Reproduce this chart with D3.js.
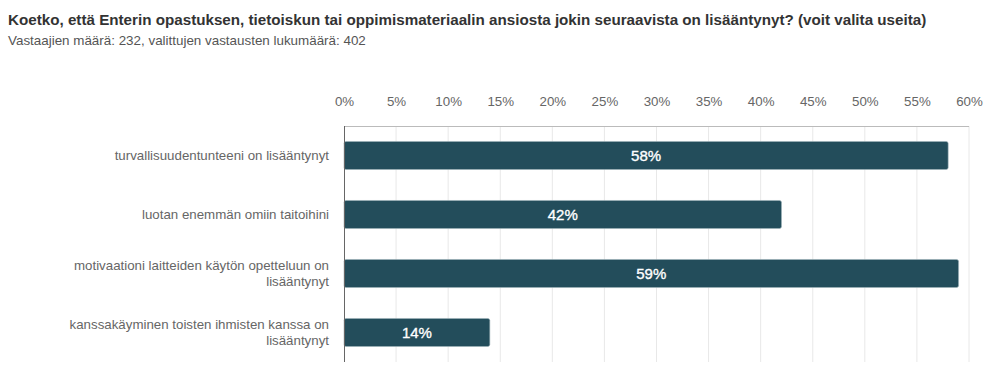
<!DOCTYPE html>
<html>
<head>
<meta charset="utf-8">
<script src="https://cdn.jsdelivr.net/npm/d3@7"></script>
<style>
  body { margin: 0; background: #fff; font-family: "Liberation Sans", Arial, sans-serif; }
</style>
</head>
<body>
<svg id="chart"></svg>
<script>
// data
const title = "Koetko, että Enterin opastuksen, tietoiskun tai oppimismateriaalin ansiosta jokin seuraavista on lisääntynyt? (voit valita useita)";
const subtitle = "Vastaajien määrä: 232, valittujen vastausten lukumäärä: 402";
const categories = [
    ["turvallisuudentunteeni on lisääntynyt"],
    ["luotan enemmän omiin taitoihini"],
    ["motivaationi laitteiden käytön opetteluun on", "lisääntynyt"],
    ["kanssakäyminen toisten ihmisten kanssa on", "lisääntynyt"]
];
const values = [58, 42, 59, 14];
const ticks = [0, 5, 10, 15, 20, 25, 30, 35, 40, 45, 50, 55, 60];

// layout
var width = 1000, height = 383;
var margin = ({ top: 126, right: 31, bottom: 21, left: 344 });

const svg = d3.select("#chart")
    .attr("width", width)
    .attr("height", height);

svg.append("text")
    .attr("x", 8).attr("y", 25)
    .attr("font-size", 15.2).attr("font-weight", "bold")
    .attr("fill", "#333")
    .text(title);

svg.append("text")
    .attr("x", 8).attr("y", 45)
    .attr("font-size", 13.4).attr("fill", "#555")
    .text(subtitle);

let x = d3.scaleLinear()
    .domain([0, 60])
    .range([margin.left, width - margin.right]);

let y = d3.scaleBand()
    .domain(d3.range(categories.length))
    .range([margin.top, height - margin.bottom])
    .paddingInner(0.525)
    .paddingOuter(0.2625);

// grid
svg.append("g")
    .selectAll("line")
    .data(ticks.slice(1))
    .join("line")
    .attr("x1", d => x(d)).attr("x2", d => x(d))
    .attr("y1", margin.top).attr("y2", height - margin.bottom)
    .attr("stroke", "#e8e8e8");

// top border
svg.append("line")
    .attr("x1", x(0)).attr("x2", x(60))
    .attr("y1", margin.top + 0.5).attr("y2", margin.top + 0.5)
    .attr("stroke", "#bbb");

// x axis on top
let xAxis = g => g
    .attr("transform", `translate(0,${margin.top - 17})`)
    .call(d3.axisTop(x).tickValues(ticks).tickFormat(d => d + "%").tickSize(0))
    .call(g => g.select(".domain").remove())
    .call(g => g.selectAll("text")
        .attr("font-family", "Liberation Sans, Arial, sans-serif")
        .attr("font-size", 13.3)
        .attr("fill", "#666"));
svg.append("g").call(xAxis);

// bars
svg.append("g")
    .selectAll("rect")
    .data(values)
    .join("rect")
    .attr("x", x(0))
    .attr("y", (d, i) => y(i))
    .attr("width", d => x(d) - x(0))
    .attr("height", y.bandwidth())
    .attr("rx", 2)
    .attr("fill", "#234d5b")
    .attr("stroke", "#9fb3ba")
    .attr("stroke-width", 0.6);

// value labels
svg.append("g")
    .selectAll("text")
    .data(values)
    .join("text")
    .attr("x", d => (x(0) + x(d)) / 2)
    .attr("y", (d, i) => y(i) + y.bandwidth() / 2)
    .attr("dy", "0.36em")
    .attr("text-anchor", "middle")
    .attr("font-size", 15)
    .attr("fill", "#fff")
    .attr("stroke", "#fff")
    .attr("stroke-width", 0.35)
    .text(d => d + "%");

// left axis line
svg.append("line")
    .attr("x1", x(0) + 0.5).attr("x2", x(0) + 0.5)
    .attr("y1", margin.top).attr("y2", height - margin.bottom)
    .attr("stroke", "#666");

// category labels
const lab = svg.append("g")
    .selectAll("text")
    .data(categories)
    .join("text")
    .attr("text-anchor", "end")
    .attr("font-size", 13.3)
    .attr("fill", "#666")
    .attr("y", (d, i) => y(i) + y.bandwidth() / 2 - (d.length - 1) * 8);
lab.selectAll("tspan")
    .data(d => d)
    .join("tspan")
    .attr("x", 329)
    .attr("dy", (d, i) => i === 0 ? "0.36em" : 16)
    .text(d => d);
</script>
</body>
</html>
